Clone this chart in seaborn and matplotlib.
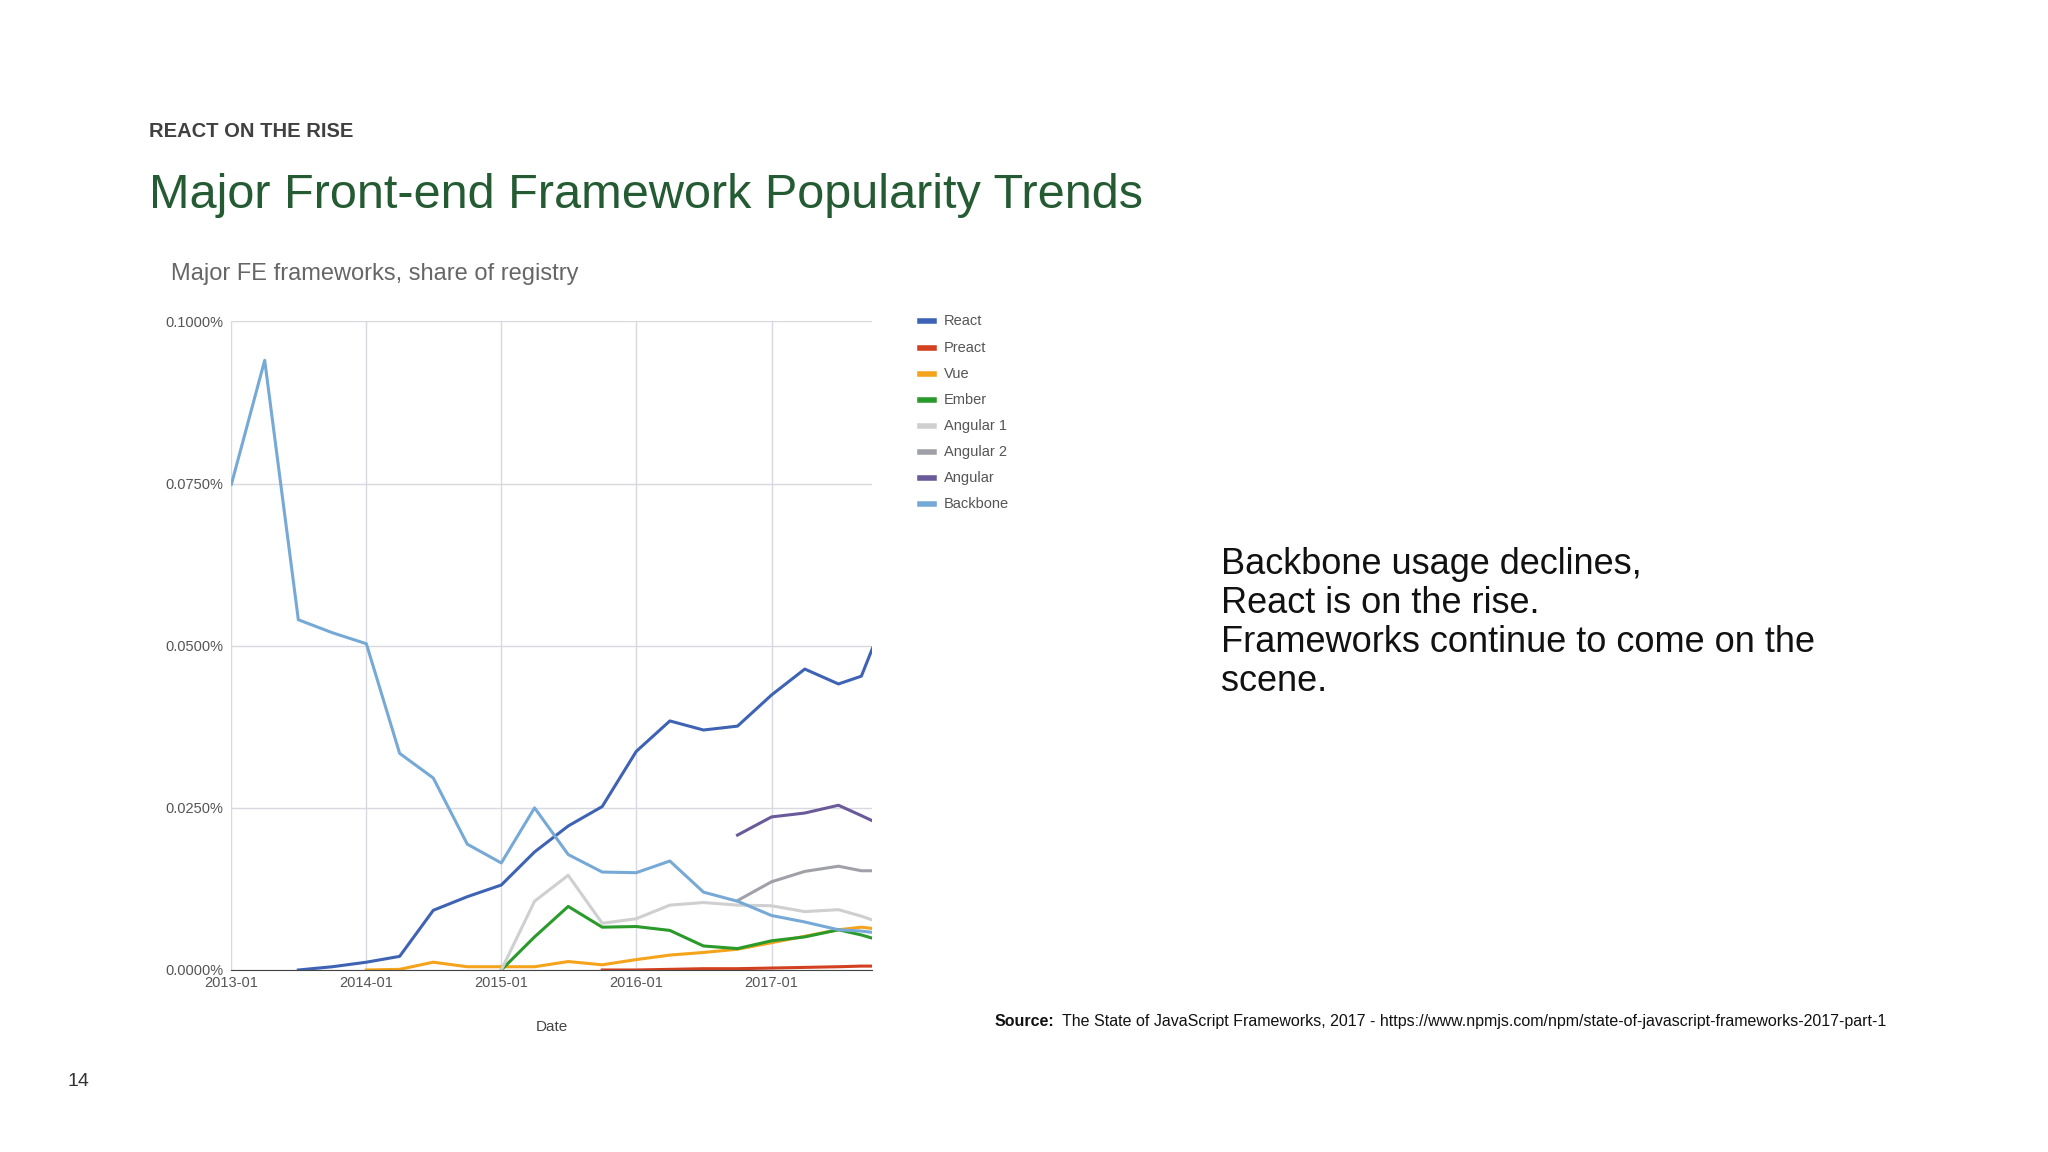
import pandas as pd
import numpy as np
import matplotlib.pyplot as plt
import matplotlib.ticker as mticker
import seaborn as sns

plt.rcParams["font.family"] = "Liberation Sans"

# Dates (quarterly, then monthly at the end)
dates = ["2013-01", "2013-04", "2013-07", "2013-10", "2014-01", "2014-04", "2014-07", "2014-10",
         "2015-01", "2015-04", "2015-07", "2015-10", "2016-01", "2016-04", "2016-07", "2016-10",
         "2017-01", "2017-04", "2017-07", "2017-09", "2017-10"]
N = np.nan

# share of registry, in percent
react = [N, N, 0.0, 0.0005, 0.0012, 0.0021, 0.0092, 0.0113, 0.0131, 0.0182, 0.0222, 0.0252,
         0.0337, 0.0384, 0.0370, 0.0376, 0.0424, 0.0464, 0.0441, 0.0453, 0.0496]
preact = [N, N, N, N, N, N, N, N, N, N, N, 0.0, 0.0, 0.0001, 0.0002, 0.0002, 0.0003,
          0.0004, 0.0005, 0.0006, 0.0006]
vue = [N, N, N, N, 0.0, 0.0001, 0.0012, 0.0005, 0.0005, 0.0005, 0.0013, 0.0008, 0.0016,
       0.0023, 0.0027, 0.0032, 0.0042, 0.0052, 0.0062, 0.0066, 0.0064]
ember = [N, N, N, N, N, N, N, N, 0.0, 0.0051, 0.0098, 0.0066, 0.0067, 0.0061, 0.0037,
         0.0033, 0.0045, 0.0051, 0.0062, 0.0054, 0.0049]
angular1 = [N, N, N, N, N, N, N, N, 0.0, 0.0106, 0.0146, 0.0072, 0.0079, 0.0100, 0.0104,
            0.0100, 0.0099, 0.0090, 0.0093, 0.0083, 0.0077]
angular2 = [N] * 15 + [0.0107, 0.0136, 0.0152, 0.0160, 0.0153, 0.0153]
angular = [N] * 15 + [0.0208, 0.0236, 0.0242, 0.0254, 0.0238, 0.0230]
backbone = [0.0749, 0.0940, 0.0540, 0.0520, 0.0503, 0.0334, 0.0296, 0.0194, 0.0165, 0.0250,
            0.0178, 0.0151, 0.0150, 0.0168, 0.0120, 0.0106, 0.0084, 0.0074, 0.0062, 0.0060, 0.0058]

names = ["React", "Preact", "Vue", "Ember", "Angular 1", "Angular 2", "Angular", "Backbone"]
series = [react, preact, vue, ember, angular1, angular2, angular, backbone]
colors = ["#3e63b4", "#d2401f", "#f4a31b", "#2a9a2a", "#cfcfcf", "#a0a0a8", "#6a5a99", "#76a9d6"]

df = pd.DataFrame({"Date": pd.to_datetime(dates)})
for n, s in zip(names, series):
    df[n] = s
long = df.melt(id_vars="Date", var_name="Framework", value_name="Share").dropna()

fig = plt.figure(figsize=(20.48, 11.52), dpi=100)
fig.text(0.0727, 0.881, "REACT ON THE RISE", fontsize=14.5, fontweight="bold", color="#404040")
fig.text(0.0727, 0.83, "Major Front-end Framework Popularity Trends", fontsize=35, color="#245b32",
         va="center")

ax = fig.add_axes([0.113, 0.158, 0.313, 0.563])
sns.lineplot(data=long, x="Date", y="Share", hue="Framework", hue_order=names,
             palette=dict(zip(names, colors)), linewidth=2.2, ax=ax, legend=False)

ax.set_xlim(pd.Timestamp("2013-01-01"), pd.Timestamp("2017-10-01"))
ax.set_ylim(0, 0.1)
ax.set_yticks([0, 0.025, 0.05, 0.075, 0.1])
ax.yaxis.set_major_formatter(mticker.FuncFormatter(lambda v, p: f"{v:.4f}%"))
ax.set_xticks(pd.to_datetime(["2013-01", "2014-01", "2015-01", "2016-01", "2017-01"]))
ax.set_xticklabels(["2013-01", "2014-01", "2015-01", "2016-01", "2017-01"])
ax.tick_params(axis="y", labelsize=10.5, colors="#555555", length=0, pad=6)
ax.tick_params(axis="x", labelsize=10.5, colors="#555555", length=0, pad=4)
ax.grid(True, color="#d8d8e0", linewidth=1)
for sp in ["top", "right", "left"]:
    ax.spines[sp].set_visible(False)
ax.spines["bottom"].set_color("#444444")
ax.set_xlabel("Date", fontsize=11, color="#444444", labelpad=22)
ax.set_ylabel("")
ax.set_title("Major FE frameworks, share of registry", loc="left", fontsize=17,
             color="#666666", x=-0.095, pad=30)

for i, (n, c) in enumerate(zip(names, colors)):
    y = 0.721 - i * 0.0227
    fig.lines.append(plt.Line2D([0.449, 0.456], [y, y], color=c, linewidth=4,
                                transform=fig.transFigure))
    fig.text(0.461, y, n, fontsize=10.5, color="#555555", va="center")

fig.text(0.596, 0.459, "Backbone usage declines,\nReact is on the rise.\nFrameworks continue to come on the\nscene.",
         fontsize=26, color="#111111", va="center", linespacing=1.15)
fig.text(0.4855, 0.113, "Source:", fontsize=11.5, fontweight="bold", color="#111111", va="center")
fig.text(0.5185, 0.113, "The State of JavaScript Frameworks, 2017 - "
         "https://www.npmjs.com/npm/state-of-javascript-frameworks-2017-part-1",
         fontsize=11.5, color="#111111", va="center")
fig.text(0.033, 0.061, "14", fontsize=14, color="#333333", va="center")

plt.savefig("out.png", dpi=100)
